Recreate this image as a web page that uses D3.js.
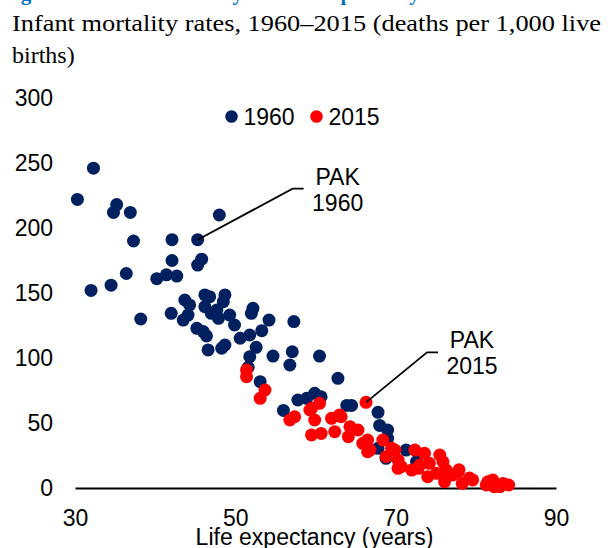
<!DOCTYPE html>
<html>
<head>
<meta charset="utf-8">
<script src="https://cdn.jsdelivr.net/npm/d3@7"></script>
<style>
  body { margin: 0; background: #fff; }
  svg { display: block; }
</style>
</head>
<body>
<div id="chart"></div>
<script>
// Infant mortality vs life expectancy, 1960 and 2015
// [life expectancy (years), infant mortality (per 1,000 live births)]
const pts1960 = [
  [32.3, 246], [30.3, 222], [35.2, 218], [34.8, 212], [36.9, 212], [48.0, 210],
  [37.3, 190], [42.1, 191], [45.3, 191], [42.1, 175], [45.8, 176], [45.3, 171.5],
  [36.4, 165], [32.0, 152], [34.5, 156], [40.2, 161], [41.4, 164], [42.7, 163],
  [43.7, 144.6], [44.3, 140.8], [46.2, 148.5], [46.8, 147.2], [48.7, 148.5], [48.5, 143.3],
  [42.0, 134.4], [43.5, 129.2], [44.1, 133], [47.0, 134.4], [47.7, 137], [47.9, 130.5],
  [46.2, 139.5], [49.3, 133], [49.9, 125.4], [52.2, 138.2], [52.0, 134.4], [54.2, 129.2],
  [57.3, 128], [45.2, 122.8], [46.0, 120.3], [46.4, 117], [50.6, 115.2], [51.8, 117.7],
  [53.3, 121], [46.6, 106.2], [48.3, 107.5], [48.7, 110], [52.6, 108.2], [51.8, 101],
  [54.7, 101.5], [57.1, 104.8], [56.8, 94.6], [51.6, 92.8], [53.1, 81.8], [60.5, 101.5],
  [62.8, 84.4], [56.0, 59.7], [57.8, 67.7], [58.9, 69], [59.9, 72.8], [60.7, 70.2],
  [63.9, 63.5], [64.5, 63.5], [67.8, 58.2], [68.0, 48.1], [69.0, 44.6], [69.0, 38.2],
  [67.8, 30.5], [68.8, 22.8], [71.3, 29.2], [72.6, 20.3], [38.2, 130]
];
const pts2015 = [
  [51.4, 90.8], [51.4, 85.6], [53.7, 75.4], [53.1, 69], [66.3, 65.9], [60.5, 65.1],
  [59.3, 60], [59.5, 61.3], [59.9, 52.3], [57.4, 54.8], [56.8, 52.3], [62.0, 53.6],
  [63.2, 54.8], [63.0, 56.2], [64.3, 47.2], [65.3, 44.6], [59.5, 40.8], [60.7, 42],
  [62.4, 43.3], [64.1, 39.5], [65.9, 34.4], [66.5, 27.9], [68.4, 36.9], [68.8, 24.1],
  [69.9, 29.2], [66.5, 36.9], [66.8, 29.2], [69.5, 30.5], [70.3, 21.5], [70.7, 16.4],
  [70.3, 15.1], [72.4, 29.2], [73.6, 26.7], [72.0, 13.8], [73.0, 17.7], [72.8, 15.1],
  [74.2, 19], [75.5, 25.4], [75.9, 20.2], [76.3, 13.8], [75.1, 11.3], [76.1, 4.8],
  [77.1, 10], [77.8, 12.5], [74.0, 8.7], [78.3, 3.5], [79.6, 6.2], [79.2, 7.6],
  [77.9, 14], [81.5, 4.8], [82.1, 6.2], [81.3, 2.3], [83.0, 1], [84.1, 2.3],
  [83.4, 3.5], [82.3, 1]
];
const xTicks = [30, 50, 70, 90];
const yTicks = [0, 50, 100, 150, 200, 250, 300];
const series = [
  { name: '1960', pts: pts1960, color: '#002060' },
  { name: '2015', pts: pts2015, color: '#ff0000' }
];
const notes = [
  { life: 45.3, imr: 191, lines: ['PAK', '1960'], dx: 95, dy: -51 },
  { life: 66.3, imr: 65.9, lines: ['PAK', '2015'], dx: 61, dy: -50 }
];

const width = 608, height = 548;
const sans = "'Liberation Sans', Arial, sans-serif";
const svg = d3.select('#chart').append('svg').attr('width', width).attr('height', height);

// cut-off figure heading and subtitle
svg.append('text')
  .attr('x', 2).attr('y', 0)
  .attr('fill', '#0070c0')
  .style('font', "bold 21px 'Liberation Serif', serif")
  .text('Figure 1.2 Infant mortality and life expectancy in 1960 and 2015');
const sub = svg.append('g').style('font', "24px 'Liberation Serif', serif").attr('fill', '#000');
sub.append('text').attr('x', 12).attr('y', 31)
  .attr('textLength', 589).attr('lengthAdjust', 'spacingAndGlyphs')
  .text('Infant mortality rates, 1960\u20132015 (deaths per 1,000 live');
sub.append('text').attr('x', 12).attr('y', 63).text('births)');

const x = d3.scaleLinear().domain([30, 90]).range([75, 556]);
const y = d3.scaleLinear().domain([0, 300]).range([488, 98]);

// y axis: labels only
const yAxis = svg.append('g')
  .attr('transform', 'translate(53,0)')
  .call(d3.axisLeft(y).tickValues(yTicks).tickSize(0).tickPadding(0));
yAxis.select('.domain').remove();
yAxis.selectAll('text').style('font', '23px ' + sans).attr('fill', '#000');

// x axis
const xAxis = svg.append('g')
  .attr('transform', 'translate(0,488)')
  .call(d3.axisBottom(x).tickValues(xTicks).tickSize(0).tickPadding(22));
xAxis.select('.domain').attr('stroke', '#000').attr('stroke-width', 2.2);
xAxis.selectAll('text').style('font', '23px ' + sans).attr('fill', '#000');

svg.append('text')
  .attr('x', (x(30) + x(90)) / 2 - 1).attr('y', 545)
  .attr('text-anchor', 'middle')
  .style('font', '23px ' + sans)
  .text('Life expectancy (years)');

// points
series.forEach(s => {
  svg.append('g').selectAll('circle')
    .data(s.pts)
    .enter().append('circle')
    .attr('cx', d => x(d[0]))
    .attr('cy', d => y(d[1]))
    .attr('r', 6.5)
    .attr('fill', s.color);
});

// legend
const leg = svg.append('g').style('font', '23px ' + sans);
[[231.5, 0], [316.5, 1]].forEach(([lx, i]) => {
  leg.append('circle').attr('cx', lx).attr('cy', 116.5).attr('r', 6.3).attr('fill', series[i].color);
  leg.append('text').attr('x', lx + 12).attr('y', 124.5).text(series[i].name);
});

// PAK callouts
notes.forEach(n => {
  const px = x(n.life), py = y(n.imr);
  const ex = px + n.dx, ey = py + n.dy;
  svg.append('path')
    .attr('d', `M${px},${py}L${ex},${ey}L${ex + 11},${ey}`)
    .attr('fill', 'none').attr('stroke', '#000').attr('stroke-width', 1.8);
  const t = svg.append('text')
    .attr('text-anchor', 'middle')
    .style('font', '23px ' + sans);
  n.lines.forEach((l, i) => {
    t.append('tspan').attr('x', ex + 45).attr('y', ey - 4 + i * 26).text(l);
  });
});
</script>
</body>
</html>
